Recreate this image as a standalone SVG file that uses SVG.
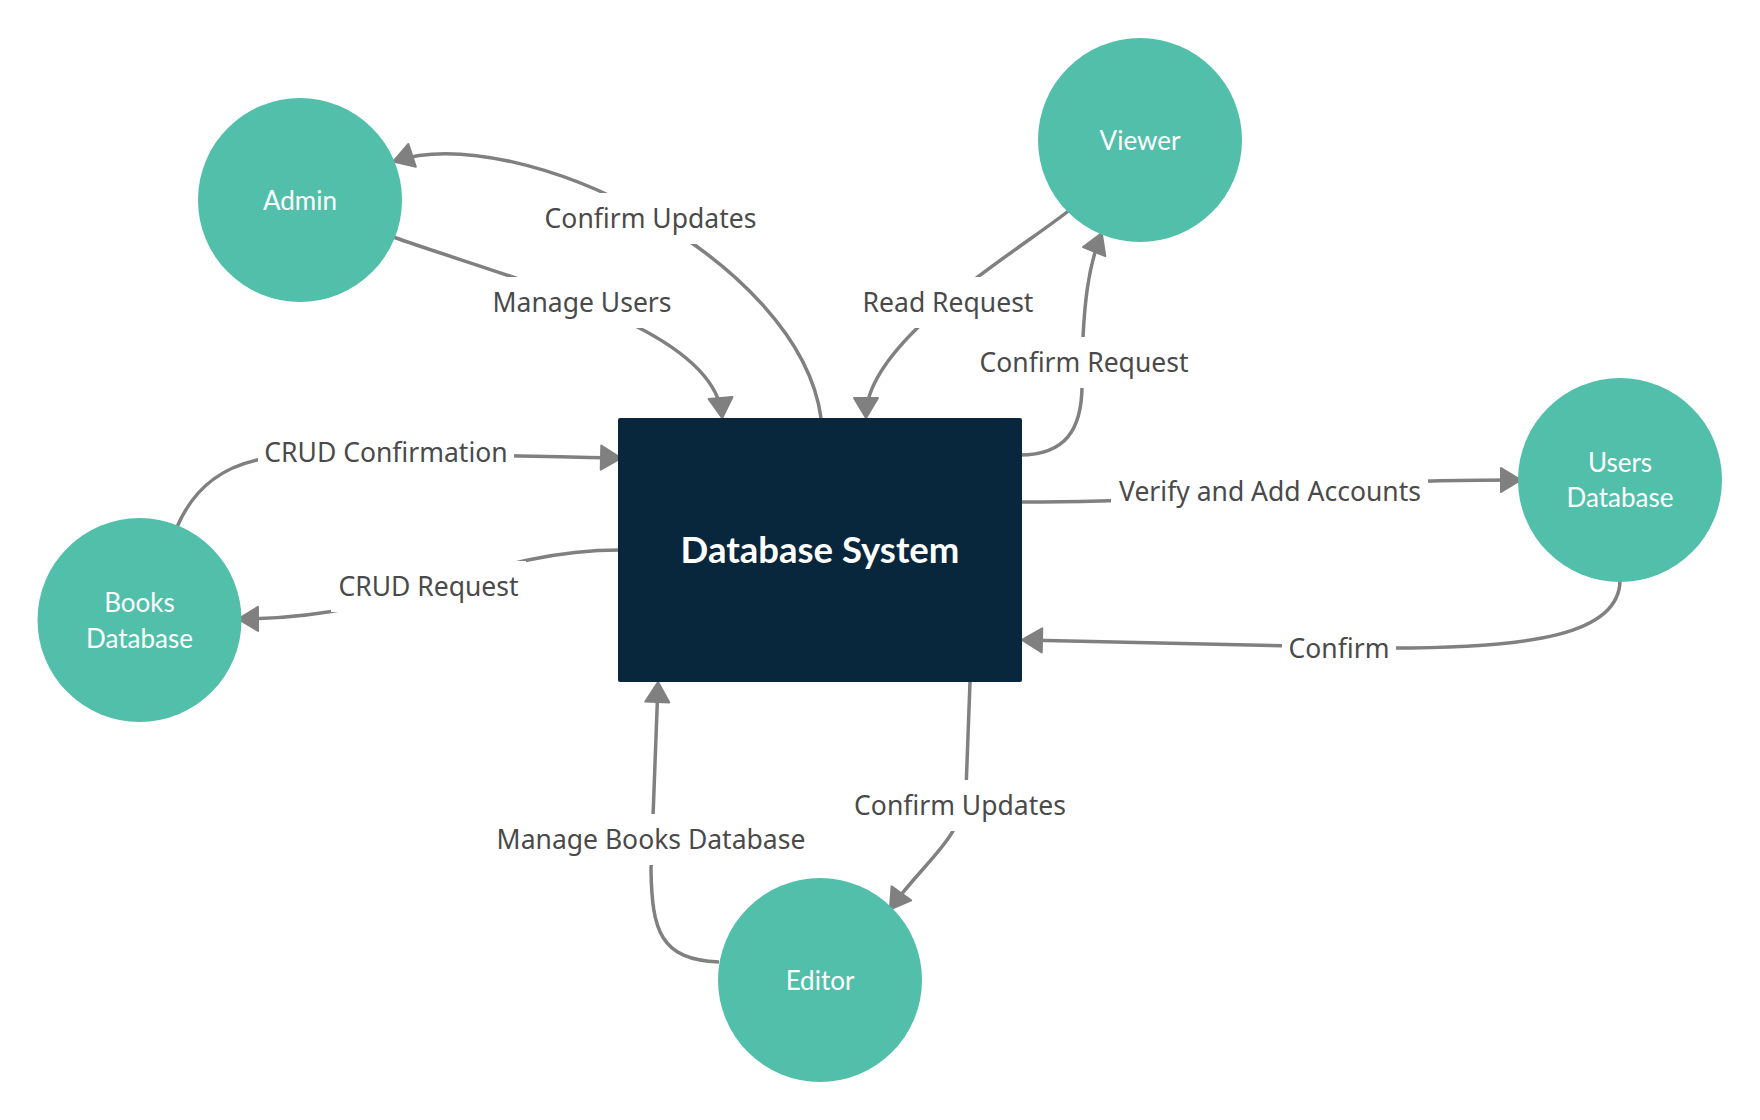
<svg xmlns="http://www.w3.org/2000/svg" width="1760" height="1120" viewBox="0 0 1760 1120">
<style>
.bg{fill:#ffffff}
.conn{fill:none;stroke:#808080;stroke-width:3.5;stroke-linecap:butt}
.lblbg{fill:#ffffff}
.lbl{font-family:"Noto Sans","Open Sans","Liberation Sans",sans-serif;font-size:26.5px;fill:#4a4a4a;text-anchor:middle}
.ent{fill:#51BFA9}
.enttxt{font-family:Lato,"Liberation Sans",sans-serif;font-size:26px;fill:#ffffff;text-anchor:middle}
.proc{fill:#08263C}
.proctxt{font-family:Lato,"Liberation Sans",sans-serif;font-size:36.5px;font-weight:bold;fill:#ffffff;text-anchor:middle}
</style>
<defs>
<marker id="arr" markerUnits="userSpaceOnUse" viewBox="0 0 24 28" markerWidth="24" markerHeight="28" refX="20" refY="14" orient="auto">
<path d="M2,2 L22,14 L2,26 Z" fill="#808080" stroke="#808080" stroke-width="2" stroke-linejoin="round"/>
</marker>
</defs>
<rect class="bg" x="0" y="0" width="1760" height="1120"/>
<g id="connectors">
<path class="conn" marker-end="url(#arr)" d="M 821 418 C 800 260 520 120 395 161"/>
<path class="conn" marker-end="url(#arr)" d="M 393 237 C 530 285 715 330 722 416"/>
<path class="conn" marker-end="url(#arr)" d="M 1071 209 C 1020 250 866 340 866 416"/>
<path class="conn" marker-end="url(#arr)" d="M 1020 455 C 1065 455 1082 430 1082 385 C 1082 300 1090 262 1101 235"/>
<path class="conn" marker-end="url(#arr)" d="M 177 527 C 195 485 225 466 262 459 C 300 452 400 453 619 458"/>
<path class="conn" marker-end="url(#arr)" d="M 620 550 C 480 550 410 618 240 619"/>
<path class="conn" marker-end="url(#arr)" d="M 1022 502 C 1270 502 1270 480 1519 480"/>
<path class="conn" marker-end="url(#arr)" d="M 1620 580 C 1620 635 1530 648 1390 648 L 1024 640"/>
<path class="conn" marker-end="url(#arr)" d="M 970 682 L 966 790 C 962 840 925 860 891 908"/>
<path class="conn" marker-end="url(#arr)" d="M 719 962 C 660 960 652 930 651 870 L 658 684"/>
<g id="labels">
<rect class="lblbg" x="538" y="193" width="225" height="51"/>
<text class="lbl" x="650.5" y="228">Confirm Updates</text>
<rect class="lblbg" x="486" y="277" width="192" height="51"/>
<text class="lbl" x="582" y="312">Manage Users</text>
<rect class="lblbg" x="856" y="277" width="184" height="51"/>
<text class="lbl" x="948" y="312">Read Request</text>
<rect class="lblbg" x="972" y="337" width="223" height="51"/>
<text class="lbl" x="1084" y="372">Confirm Request</text>
<rect class="lblbg" x="258" y="427" width="256" height="51"/>
<text class="lbl" x="386" y="462">CRUD Confirmation</text>
<rect class="lblbg" x="331" y="561" width="195" height="51"/>
<text class="lbl" x="428.5" y="596">CRUD Request</text>
<rect class="lblbg" x="1111" y="466" width="317" height="51"/>
<text class="lbl" x="1270" y="501">Verify and Add Accounts</text>
<rect class="lblbg" x="1282" y="623" width="114" height="51"/>
<text class="lbl" x="1339" y="658">Confirm</text>
<rect class="lblbg" x="848" y="780" width="225" height="51"/>
<text class="lbl" x="960" y="815">Confirm Updates</text>
<rect class="lblbg" x="490" y="814" width="322" height="51"/>
<text class="lbl" x="651" y="849">Manage Books Database</text>
</g>
</g>
<g id="node-database-system">
<rect class="proc" x="618" y="418" width="404" height="264" rx="2"/>
<text class="proctxt" x="820" y="563">Database System</text>
</g>
<g id="node-admin">
<circle class="ent" cx="300" cy="200" r="102"/>
<text class="enttxt" x="300" y="209.5">Admin</text>
</g>
<g id="node-viewer">
<circle class="ent" cx="1140" cy="140" r="102"/>
<text class="enttxt" x="1140" y="150">Viewer</text>
</g>
<g id="node-users-database">
<circle class="ent" cx="1620" cy="480" r="102"/>
<text class="enttxt" x="1620" y="471.5">Users</text>
<text class="enttxt" x="1620" y="506.5">Database</text>
</g>
<g id="node-books-database">
<circle class="ent" cx="139.5" cy="620" r="102"/>
<text class="enttxt" x="139.5" y="611.5">Books</text>
<text class="enttxt" x="139.5" y="647.5">Database</text>
</g>
<g id="node-editor">
<circle class="ent" cx="820" cy="980" r="102"/>
<text class="enttxt" x="820" y="990">Editor</text>
</g>
</svg>
